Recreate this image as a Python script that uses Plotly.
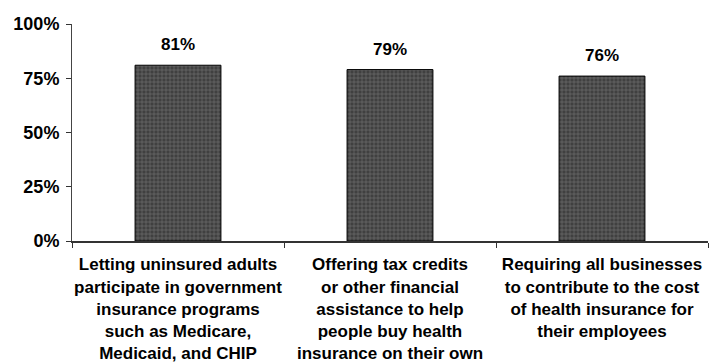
import plotly.graph_objects as go

categories = [
    "Letting uninsured adults<br>participate in government<br>insurance programs<br>such as Medicare,<br>Medicaid, and CHIP",
    "Offering tax credits<br>or other financial<br>assistance to help<br>people buy health<br>insurance on their own",
    "Requiring all businesses<br>to contribute to the cost<br>of health insurance for<br>their employees",
]
values = [81, 79, 76]
labels = [f"{v}%" for v in values]

FONT = "Liberation Sans Narrow, Arial Narrow, sans-serif"

fig = go.Figure(
    go.Bar(
        x=categories,
        y=values,
        width=0.405,
        marker=dict(
            color="#5a5a5a",
            line=dict(color="black", width=1),
            pattern=dict(shape="+", fgcolor="#a0a0a0", bgcolor="#404040", size=4, solidity=0.3),
        ),
    )
)

# value labels above each bar
for cat, val, lab in zip(categories, values, labels):
    fig.add_annotation(
        x=cat, y=val, text=lab, showarrow=False,
        yanchor="bottom", yshift=9,
        font=dict(family=FONT, size=17, color="black", weight="bold"),
    )

fig.update_layout(
    width=709,
    height=364,
    margin=dict(l=72, r=1, t=24, b=123, autoexpand=False),
    paper_bgcolor="white",
    plot_bgcolor="white",
    showlegend=False,
    font=dict(family=FONT, color="black"),
)

fig.update_xaxes(
    showline=True,
    linecolor="#333",
    linewidth=2,
    ticks="outside",
    tickson="boundaries",
    ticklen=5,
    tickcolor="#333",
    tickangle=0,
    automargin=False,
    ticklabelstandoff=7,
    tickfont=dict(family=FONT, size=17, color="black", weight="bold"),
    showgrid=False,
)
fig.update_yaxes(
    range=[0, 100],
    tickvals=[0, 25, 50, 75, 100],
    ticktext=["0%", "25%", "50%", "75%", "100%"],
    showline=True,
    linecolor="#444",
    linewidth=1,
    ticks="outside",
    ticklen=5,
    tickcolor="#333",
    automargin=False,
    ticklabelstandoff=3,
    tickfont=dict(family=FONT, size=18, color="black", weight="bold"),
    showgrid=False,
    zeroline=False,
)

fig.write_html("out.html")
